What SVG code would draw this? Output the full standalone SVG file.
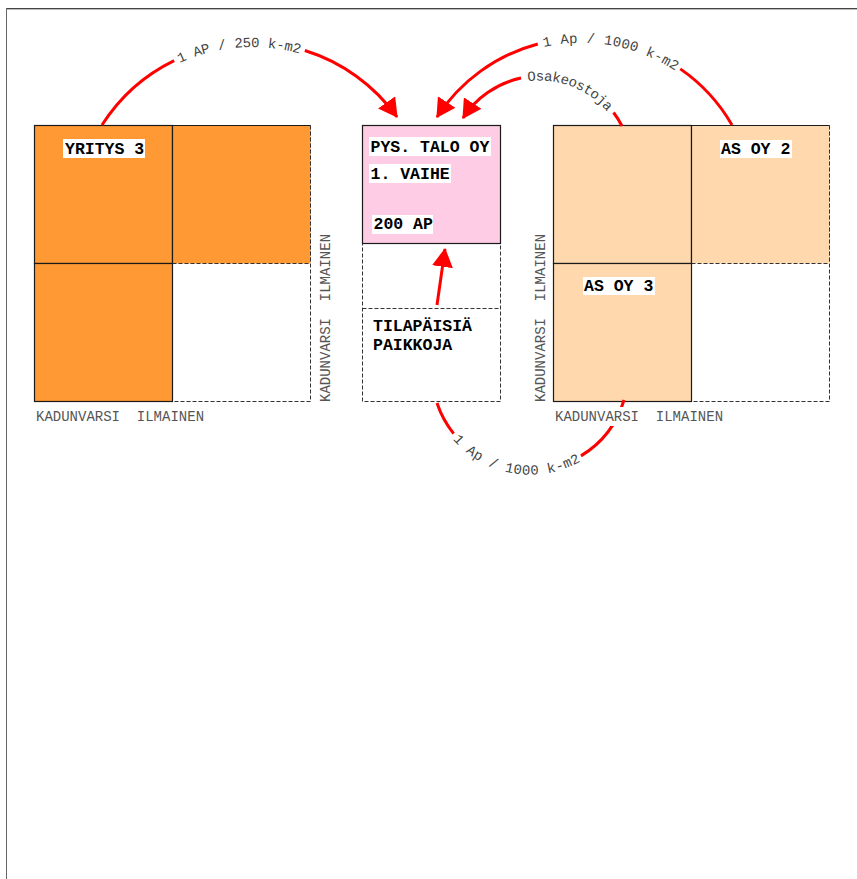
<svg xmlns="http://www.w3.org/2000/svg" xmlns:xlink="http://www.w3.org/1999/xlink" width="857" height="879" viewBox="0 0 857 879">
<style>
.solid{stroke:#1a1a1a;stroke-width:1.2}
.dash{fill:none;stroke:#333;stroke-width:1;stroke-dasharray:4 2}
.lbl{font-family:"Liberation Mono","Courier New",monospace;font-weight:bold;font-size:16.5px;fill:#000}
.side{font-family:"Liberation Mono","Courier New",monospace;font-size:14px;fill:#555}
.arcTxt{font-family:"Liberation Mono","Courier New",monospace;font-size:14px;fill:#444}
.conn{fill:none;stroke:#ff0000;stroke-width:3}
.bg{fill:#fff}
</style>
<defs>
<marker id="ah" viewBox="0 0 18 20" refX="17" refY="10" markerWidth="19" markerHeight="21" markerUnits="userSpaceOnUse" orient="auto">
<path d="M0,0 L18,10 L0,20 z" fill="#ff0000"/>
</marker>
<path id="p1" d="M102,125 A178,178 0 0,1 397,117"/>
<path id="p3" d="M437,117 A173,173 0 0,1 732,125"/>
<path id="p4" d="M463,118 A92,92 0 0,1 622,126"/>
<path id="p5" d="M437,403 A98,98 0 0,0 624,400"/>
</defs>
<rect width="857" height="879" fill="#fff"/>
<g id="frame">
<line x1="6" y1="8.5" x2="857" y2="8.5" stroke="#444" stroke-width="1"/>
<line x1="6" y1="9.5" x2="857" y2="9.5" stroke="#bbb" stroke-width="1"/>
<line x1="6.5" y1="8" x2="6.5" y2="879" stroke="#666" stroke-width="1"/>
</g>

<g id="block-left">
<rect class="dash" x="34.5" y="125.5" width="276" height="276"/>
<rect x="34.5" y="125.5" width="138" height="138" fill="#ff9933" class="solid"/>
<rect x="172.5" y="125.5" width="138" height="138" fill="#ff9933"/>
<path d="M172.5,263.5 V125.5 H310.5" fill="none" class="solid"/>
<line x1="172.5" y1="263.5" x2="310.5" y2="263.5" class="dash"/>
<line x1="310.5" y1="125.5" x2="310.5" y2="263.5" class="dash"/>
<rect x="34.5" y="263.5" width="138" height="138" fill="#ff9933" class="solid"/>
</g>
<g id="yritys3">
<rect class="bg" x="63" y="139" width="82" height="19"/>
<text class="lbl" x="65" y="153.5">YRITYS 3</text>
</g>
<g id="label-left-bottom"><text class="side" x="36" y="421" xml:space="preserve">KADUNVARSI  ILMAINEN</text></g>
<g id="label-left-side"><text class="side" transform="translate(330,402) rotate(-90)" xml:space="preserve">KADUNVARSI  ILMAINEN</text></g>

<g id="block-center">
<rect class="dash" x="362.5" y="125.5" width="138" height="276"/>
<line class="dash" x1="362.5" y1="308.5" x2="500.5" y2="308.5"/>
<rect x="362.5" y="125.5" width="138" height="118" fill="#ffcce6" class="solid"/>
</g>
<g id="pys-talo">
<rect class="bg" x="369" y="137" width="122" height="19"/>
<text class="lbl" x="370.5" y="151.5">PYS. TALO OY</text>
<rect class="bg" x="369" y="164" width="82" height="19"/>
<text class="lbl" x="370.5" y="178.5">1. VAIHE</text>
<rect class="bg" x="372" y="215" width="61" height="19"/>
<text class="lbl" x="373.5" y="228.5">200 AP</text>
</g>
<g id="tilapaisia">
<text class="lbl" x="373" y="331">TILAPÄISIÄ</text>
<text class="lbl" x="373" y="350">PAIKKOJA</text>
</g>

<g id="block-right">
<rect class="dash" x="553.5" y="125.5" width="276" height="276"/>
<rect x="553.5" y="125.5" width="138" height="138" fill="#ffd8ae" class="solid"/>
<rect x="691.5" y="125.5" width="138" height="138" fill="#ffd8ae"/>
<path d="M691.5,263.5 V125.5 H829.5" fill="none" class="solid"/>
<line x1="691.5" y1="263.5" x2="829.5" y2="263.5" class="dash"/>
<line x1="829.5" y1="125.5" x2="829.5" y2="263.5" class="dash"/>
<rect x="553.5" y="263.5" width="138" height="138" fill="#ffd8ae" class="solid"/>
</g>
<g id="asoy2">
<rect class="bg" x="720" y="140" width="72" height="18"/>
<text class="lbl" x="721" y="153.5">AS OY 2</text>
</g>
<g id="asoy3">
<rect class="bg" x="583" y="277" width="72" height="18"/>
<text class="lbl" x="584" y="290.7">AS OY 3</text>
</g>
<g id="label-right-side"><text class="side" transform="translate(545,402) rotate(-90)" xml:space="preserve">KADUNVARSI  ILMAINEN</text></g>

<g id="connectors">
<path class="conn" d="M102,125 A178,178 0 0,1 397,117" stroke-dasharray="98 134 400" marker-end="url(#ah)"/>
<path class="conn" d="M732,125 A173,173 0 0,0 437,117" stroke-dasharray="77 149 400" marker-end="url(#ah)"/>
<path class="conn" d="M622,126 A92,92 0 0,0 463,118" stroke-dasharray="16 104 300" marker-end="url(#ah)"/>
<path class="conn" d="M437,305 L445,249" marker-end="url(#ah)"/>
<path class="conn" d="M437,403 A98,98 0 0,0 624,400" stroke-dasharray="35 141 300"/>
<text class="arcTxt" dy="4.5"><textPath xlink:href="#p1" href="#p1" startOffset="165" text-anchor="middle">1 AP / 250 k-m2</textPath></text>
<text class="arcTxt" dy="4.5" letter-spacing="0.4"><textPath xlink:href="#p3" href="#p3" startOffset="203" text-anchor="middle">1 Ap / 1000 k-m2</textPath></text>
<text class="arcTxt" dy="4.5"><textPath xlink:href="#p4" href="#p4" startOffset="125" text-anchor="middle">Osakeostoja</textPath></text>
<text class="arcTxt" dy="4.5"><textPath xlink:href="#p5" href="#p5" startOffset="106" text-anchor="middle">1 Ap / 1000 k-m2</textPath></text>
</g>

<g id="label-right-bottom">
<rect class="bg" x="553" y="407" width="172" height="19"/>
<text class="side" x="555" y="421" xml:space="preserve">KADUNVARSI  ILMAINEN</text>
</g>
</svg>
